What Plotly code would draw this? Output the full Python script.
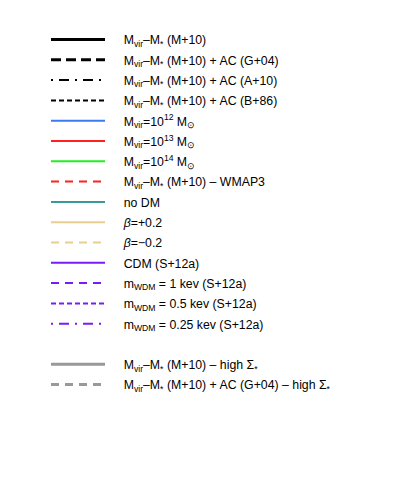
import plotly.graph_objects as go

labels = [
    "M<sub>vir</sub>–M<sub>*</sub> (M+10)",
    "M<sub>vir</sub>–M<sub>*</sub> (M+10) + AC (G+04)",
    "M<sub>vir</sub>–M<sub>*</sub> (M+10) + AC (A+10)",
    "M<sub>vir</sub>–M<sub>*</sub> (M+10) + AC (B+86)",
    "M<sub>vir</sub>=10<sup>12</sup> M<sub>⊙</sub>",
    "M<sub>vir</sub>=10<sup>13</sup> M<sub>⊙</sub>",
    "M<sub>vir</sub>=10<sup>14</sup> M<sub>⊙</sub>",
    "M<sub>vir</sub>–M<sub>*</sub> (M+10) – WMAP3",
    "no DM",
    "<i>β</i>=+0.2",
    "<i>β</i>=−0.2",
    "CDM (S+12a)",
    "m<sub>WDM</sub> = 1 kev (S+12a)",
    "m<sub>WDM</sub> = 0.5 kev (S+12a)",
    "m<sub>WDM</sub> = 0.25 kev (S+12a)",
    "",
    "M<sub>vir</sub>–M<sub>*</sub> (M+10) – high Σ<sub>*</sub>",
    "M<sub>vir</sub>–M<sub>*</sub> (M+10) + AC (G+04) – high Σ<sub>*</sub>",
]
colors = ["#000000", "#000000", "#000000", "#000000", "#3b7cf0", "#ff2020", "#22ee22",
          "#ff2020", "#3a9a9a", "#e8cf90", "#e8cf90", "#7a1cf5", "#7a1cf5", "#7a1cf5",
          "#7a1cf5", "rgba(0,0,0,0)", "#999999", "#999999"]
widths = [3, 3, 2, 2, 2, 2, 2, 2, 2, 2, 2, 2, 2, 2, 2, 2, 3, 3]
dashes = ["solid", "10px,5px", "2px,6px,10px,6px", "5px,3px", "solid", "solid", "solid",
          "8px,6px", "solid", "solid", "8px,6px", "solid", "8px,6px", "5px,3px",
          "2px,6px,10px,6px", "solid", "solid", "8px,6px"]

pad = "\u00a0" * 4
fig = go.Figure()
for i, (lab, c, w, d) in enumerate(zip(labels, colors, widths, dashes)):
    fig.add_trace(go.Scatter(
        x=[None], y=[None], mode="lines", name=pad + lab if lab else "\u00a0",
        line=dict(color=c, width=w, dash=d), legendgroup=f"g{i}", showlegend=True,
    ))

fig.update_layout(
    width=398, height=498,
    margin=dict(l=0, r=0, t=0, b=0),
    paper_bgcolor="white", plot_bgcolor="white",
    xaxis=dict(visible=False), yaxis=dict(visible=False),
    font=dict(family="Liberation Sans, Arial, sans-serif", size=12.3, color="black"),
    legend=dict(
        xref="container", yref="container",
        x=38 / 398, y=1 - 17 / 498, xanchor="left", yanchor="top",
        itemwidth=54, tracegroupgap=1.3, traceorder="grouped", maxheight=1,
        bgcolor="rgba(0,0,0,0)", borderwidth=0,
        font=dict(family="Liberation Sans, Arial, sans-serif", size=12.3, color="black"),
    ),
)
fig.write_html("out.html")
